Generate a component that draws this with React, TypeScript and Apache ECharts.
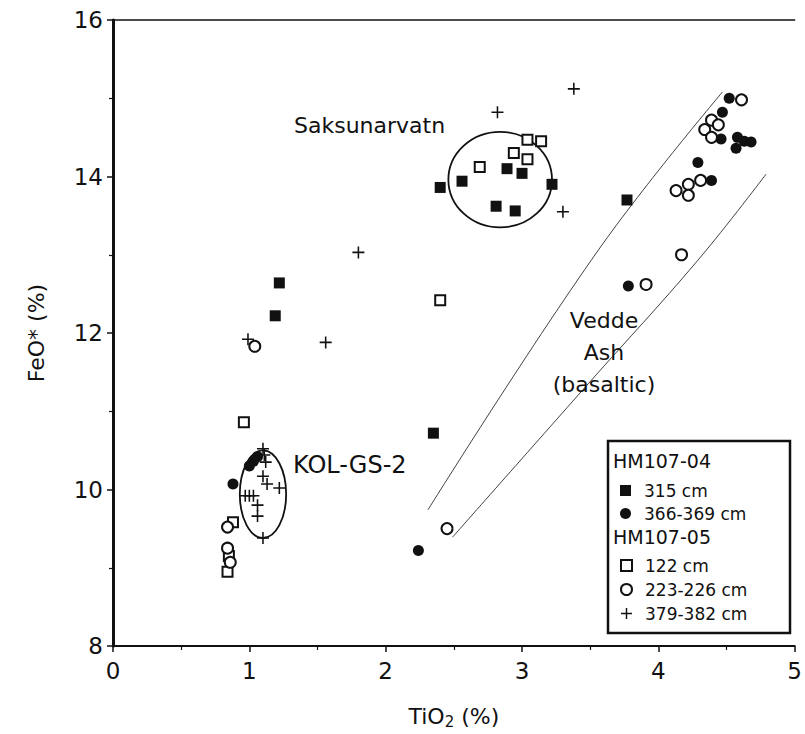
import React, { useEffect, useRef } from "react";
import * as echarts from "echarts";

// HM107-04
const sq315: number[][] = [
  [1.22, 12.64], [1.19, 12.22], [2.35, 10.72], [2.4, 13.86], [2.56, 13.94],
  [2.81, 13.62], [2.95, 13.56], [2.89, 14.1], [3.0, 14.04], [3.22, 13.9], [3.77, 13.7],
];
const circ366: number[][] = [
  [0.88, 10.07], [1.0, 10.3], [1.03, 10.36], [1.06, 10.42], [2.24, 9.22], [3.78, 12.6],
  [4.29, 14.18], [4.39, 13.95], [4.46, 14.48], [4.47, 14.82], [4.52, 15.0], [4.57, 14.36],
  [4.58, 14.5], [4.63, 14.45], [4.68, 14.44],
];
// HM107-05
const sq122: number[][] = [
  [0.96, 10.86], [0.88, 9.58], [0.85, 9.15], [0.84, 8.95], [2.4, 12.42],
  [2.69, 14.12], [2.94, 14.3], [3.04, 14.22], [3.04, 14.47], [3.14, 14.45],
];
const circ223: number[][] = [
  [0.84, 9.52], [0.84, 9.25], [0.86, 9.07], [1.04, 11.83], [2.45, 9.5], [3.91, 12.62],
  [4.17, 13.0], [4.13, 13.82], [4.22, 13.9], [4.22, 13.76], [4.31, 13.95], [4.34, 14.6],
  [4.39, 14.72], [4.44, 14.66], [4.39, 14.5], [4.61, 14.98],
];
const plus379: number[][] = [
  [0.99, 11.92], [1.56, 11.88], [1.8, 13.03], [2.82, 14.82], [3.3, 13.55], [3.38, 15.12],
  [1.1, 10.52], [1.11, 10.44], [1.12, 10.35], [1.1, 10.17], [1.13, 10.07], [1.22, 10.02],
  [0.97, 9.92], [1.0, 9.92], [1.03, 9.92], [1.06, 9.8], [1.06, 9.66], [1.1, 9.38],
];

// fields: [cx, cy, rx, ry]
const ellipses: number[][] = [
  [1.1, 9.94, 0.17, 0.56],
  [2.84, 13.96, 0.38, 0.61],
];
const veddeUpper: number[][] = [[2.31, 9.74], [3.56, 13.06], [4.47, 15.08]];
const veddeLower: number[][] = [[2.49, 9.39], [3.49, 11.36], [4.29, 12.93], [4.79, 14.03]];

const xTicks = [0, 1, 2, 3, 4, 5];
const yTicks = [8, 10, 12, 14, 16];

const FONT = "'DejaVu Sans', sans-serif";
const INK = "#111111";
const PLUS = "path://M4.35,0H5.65V4.35H10V5.65H5.65V10H4.35V5.65H0V4.35H4.35Z";

export default function App() {
  const ref = useRef<HTMLDivElement>(null);
  useEffect(() => {
    document.body.style.margin = "0";
    const chart = echarts.init(ref.current!, null, { renderer: "svg" });
    const axisCommon = {
      axisLine: { show: true, lineStyle: { color: INK, width: 2 } },
      splitLine: { show: false },
    };
    const legendText = { fontSize: 17, color: INK, fontFamily: FONT, padding: [0, 0, 0, 8] };
    chart.setOption({
      animation: false,
      backgroundColor: "#fff",
      grid: { left: 113, right: 8, top: 20, bottom: 88 },
      xAxis: [
        {
          type: "value", min: xTicks[0], max: xTicks[xTicks.length - 1], interval: 1,
          ...axisCommon,
          axisTick: { show: true, inside: false, length: 6, lineStyle: { color: INK, width: 1.5 } },
          minorTick: { show: true, splitNumber: 2, length: 4, lineStyle: { color: INK, width: 1.2 } },
          axisLabel: { fontSize: 23, color: INK, fontFamily: FONT, margin: 13 },
          name: "{a|TiO}{b|2}{a| (%)}",
          nameLocation: "middle",
          nameGap: 58,
          nameTextStyle: {
            rich: {
              a: { fontSize: 22, color: INK, fontFamily: FONT },
              b: { fontSize: 15, color: INK, fontFamily: FONT, verticalAlign: "bottom", padding: [10, 0, 0, 0] },
            },
          },
        },
        {
          type: "value", position: "top", min: 0, max: 5,
          axisLine: { show: true, lineStyle: { color: INK, width: 1.5 } },
          axisTick: { show: false }, axisLabel: { show: false }, splitLine: { show: false },
        },
      ],
      yAxis: [
        {
          type: "value", min: yTicks[0], max: yTicks[yTicks.length - 1], interval: 2,
          ...axisCommon,
          axisTick: { show: true, inside: false, length: 6, lineStyle: { color: INK, width: 1.5 } },
          minorTick: { show: true, splitNumber: 2, length: 4, lineStyle: { color: INK, width: 1.2 } },
          axisLabel: { fontSize: 23, color: INK, fontFamily: FONT, margin: 10 },
          name: "FeO* (%)",
          nameLocation: "middle",
          nameGap: 66,
          nameTextStyle: { fontSize: 22, color: INK, fontFamily: FONT },
        },
        {
          type: "value", position: "right", min: 8, max: 16,
          axisLine: { show: true, lineStyle: { color: INK, width: 3 } },
          axisTick: { show: false }, axisLabel: { show: false }, splitLine: { show: false },
        },
      ],
      legend: [
        {
          data: ["315 cm", "366-369 cm"], z: 10,
          orient: "vertical", left: 620, top: 482, itemGap: 6,
          itemWidth: 11, itemHeight: 11, padding: 0,
          textStyle: legendText,
        },
        {
          data: ["122 cm", "223-226 cm", "379-382 cm"], z: 10,
          orient: "vertical", left: 620, top: 557, itemGap: 7,
          itemWidth: 11, itemHeight: 11, padding: 0,
          textStyle: legendText,
        },
      ],
      graphic: [
        { type: "rect", shape: { x: 608, y: 441, width: 182, height: 192 }, style: { fill: "#fff", stroke: INK, lineWidth: 2.5 }, z: 1 },
        { type: "text", left: 613, top: 451, style: { text: "HM107-04", fontSize: 19, fill: INK, fontFamily: FONT }, z: 6 },
        { type: "text", left: 613, top: 527, style: { text: "HM107-05", fontSize: 19, fill: INK, fontFamily: FONT }, z: 6 },
        { type: "text", left: 294, top: 114, style: { text: "Saksunarvatn", fontSize: 22, fill: INK, fontFamily: FONT } },
        { type: "text", left: 293, top: 453, style: { text: "KOL-GS-2", fontSize: 24, fill: INK, fontFamily: FONT } },
        {
          type: "text", x: 604, y: 304,
          style: { text: "Vedde\nAsh\n(basaltic)", fontSize: 22, lineHeight: 32, align: "center", fill: INK, fontFamily: FONT },
        },
      ],
      series: [
        {
          type: "line", data: veddeUpper, smooth: 0.4, symbol: "none", silent: true,
          lineStyle: { color: INK, width: 0.8 },
        },
        {
          type: "line", data: veddeLower, smooth: 0.4, symbol: "none", silent: true,
          lineStyle: { color: INK, width: 0.8 },
        },
        {
          type: "custom", data: ellipses, silent: true,
          renderItem: (params: any, api: any) => {
            const c = api.coord([api.value(0), api.value(1)]);
            const s = api.size([api.value(2), api.value(3)]);
            return {
              type: "ellipse",
              shape: { cx: c[0], cy: c[1], rx: s[0], ry: s[1] },
              style: { fill: "none", stroke: INK, lineWidth: 1.8 },
            };
          },
        },
        {
          name: "315 cm", type: "scatter", data: sq315, symbol: "rect", symbolSize: 11,
          itemStyle: { color: INK, opacity: 1 },
        },
        {
          name: "366-369 cm", type: "scatter", data: circ366, symbol: "circle", symbolSize: 11,
          itemStyle: { color: INK, opacity: 1 },
        },
        {
          name: "122 cm", type: "scatter", data: sq122, symbol: "rect", symbolSize: 10,
          itemStyle: { color: "#fff", borderColor: INK, borderWidth: 2, opacity: 1 },
        },
        {
          name: "223-226 cm", type: "scatter", data: circ223, symbol: "circle", symbolSize: 11,
          itemStyle: { color: "#fff", borderColor: INK, borderWidth: 2, opacity: 1 },
        },
        {
          name: "379-382 cm", type: "scatter", data: plus379, symbol: PLUS, symbolSize: 12,
          itemStyle: { color: INK, opacity: 1 },
        },
      ],
    });
    return () => chart.dispose();
  }, []);
  return <div ref={ref} style={{ width: 805, height: 734 }} />;
}
